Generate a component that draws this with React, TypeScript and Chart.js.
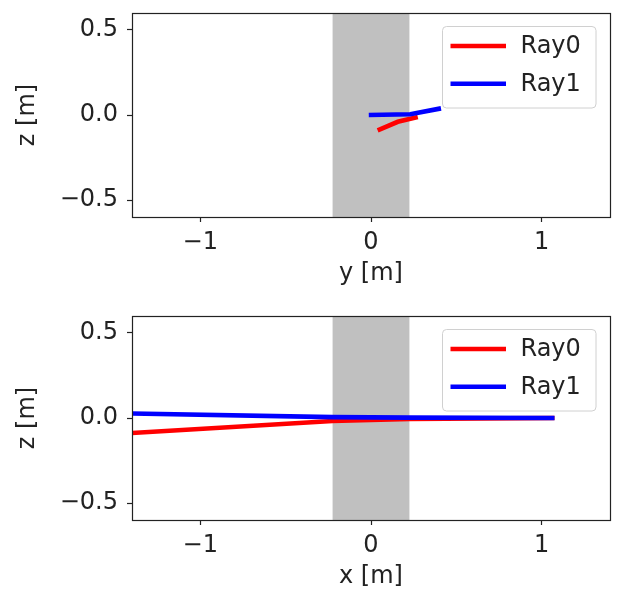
import React, { useEffect, useRef } from 'react';
import { Chart, registerables } from 'chart.js';

Chart.register(...registerables);

// ---- data ----
const SERIES_LABELS = ['Ray0', 'Ray1'];
const SERIES_COLORS = ['#ff0000', '#0000ff'];
const H_TICKS = [-1, 0, 1];
const Z_TICKS = [-0.5, 0, 0.5];
const H_RANGE = [-1.4, 1.4];
const Z_RANGE = [-0.6, 0.6];
const LENS_SPAN = [-0.225, 0.225];

// top panel: y-z projection
const TOP_RAY0_Y = [0.039, 0.157, 0.274];
const TOP_RAY0_Z = [-0.09, -0.04, -0.012];
const TOP_RAY1_Y = [-0.013, 0.23, 0.41];
const TOP_RAY1_Z = [0.0, 0.004, 0.039];

// bottom panel: x-z projection
const BOT_RAY0_X = [-1.5, -0.225, 0.225, 1.075];
const BOT_RAY0_Z = [-0.094, -0.018, -0.005, 0.0];
const BOT_RAY1_X = [-1.5, -0.225, 0.225, 1.075];
const BOT_RAY1_Z = [0.028, 0.005, 0.002, 0.0];

const FONT_FAMILY = '"DejaVu Sans", sans-serif';
const FONT_SIZE = 24;
const TEXT_COLOR = '#222222';

const fmt = (v: number, digits: number) => {
  const s = v.toFixed(digits);
  return s.replace('-', '\u2212');
};

const panelPlugin = {
  id: 'panelDeco',
  beforeDatasetsDraw(chart: any) {
    const { ctx, chartArea: a, scales } = chart;
    const x0 = scales.x.getPixelForValue(LENS_SPAN[0]);
    const x1 = scales.x.getPixelForValue(LENS_SPAN[1]);
    ctx.save();
    ctx.fillStyle = '#c0c0c0';
    ctx.fillRect(x0, a.top, x1 - x0, a.bottom - a.top);
    ctx.restore();
  },
  afterDatasetsDraw(chart: any) {
    const { ctx, chartArea: a } = chart;
    ctx.save();
    // legend
    const bw = 153.5;
    const bh = 81.5;
    const bx = a.right - 14 - bw;
    const by = a.top + 13.5;
    ctx.beginPath();
    (ctx as any).roundRect(bx, by, bw, bh, 4);
    ctx.fillStyle = 'rgba(255,255,255,0.8)';
    ctx.fill();
    ctx.lineWidth = 1;
    ctx.strokeStyle = '#d0d0d0';
    ctx.stroke();
    ctx.font = `${FONT_SIZE}px ${FONT_FAMILY}`;
    ctx.textBaseline = 'middle';
    ctx.textAlign = 'left';
    chart.data.datasets.forEach((ds: any, i: number) => {
      const ly = by + 19.5 + i * 37.8;
      ctx.beginPath();
      ctx.moveTo(bx + 8, ly);
      ctx.lineTo(bx + 63.5, ly);
      ctx.strokeStyle = ds.borderColor;
      ctx.lineWidth = 4.5;
      ctx.stroke();
      ctx.fillStyle = TEXT_COLOR;
      ctx.fillText(ds.label, bx + 78, ly + 1);
    });
    // frame
    ctx.strokeStyle = TEXT_COLOR;
    ctx.lineWidth = 1.2;
    ctx.strokeRect(Math.round(a.left) + 0.5, Math.round(a.top) + 0.5, Math.round(a.right - a.left), Math.round(a.bottom - a.top));
    ctx.restore();
  },
};

function makeConfig(xs: number[][], zs: number[][], xTitle: string): any {
  const datasets = SERIES_LABELS.map((label, i) => ({
    label,
    data: xs[i].map((x, k) => ({ x, y: zs[i][k] })),
    borderColor: SERIES_COLORS[i],
    backgroundColor: SERIES_COLORS[i],
    borderWidth: 4.6,
    pointRadius: 0,
    showLine: true,
    fill: false,
    tension: 0,
    order: SERIES_LABELS.length - i,
  }));
  const tickFont = { family: FONT_FAMILY, size: FONT_SIZE };
  return {
    type: 'scatter',
    data: { datasets },
    plugins: [panelPlugin],
    options: {
      responsive: false,
      animation: false,
      devicePixelRatio: 1,
      layout: { padding: { left: 0, right: 18, top: 13, bottom: 0 } },
      plugins: { legend: { display: false }, tooltip: { enabled: false } },
      scales: {
        x: {
          type: 'linear',
          min: H_RANGE[0],
          max: H_RANGE[1],
          afterBuildTicks: (s: any) => {
            s.ticks = H_TICKS.map((v) => ({ value: v }));
          },
          afterFit: (s: any) => {
            s.height = 85;
            s.paddingLeft = 0;
            s.paddingRight = 0;
          },
          grid: { drawOnChartArea: false, drawTicks: true, tickLength: 5, tickColor: TEXT_COLOR, tickWidth: 1.2 },
          border: { display: false },
          ticks: {
            color: TEXT_COLOR,
            font: tickFont,
            padding: 6.6,
            maxRotation: 0,
            callback: (v: number) => fmt(v, 0),
          },
          title: { display: true, text: xTitle, color: TEXT_COLOR, font: tickFont, padding: { top: 0, bottom: 13.6 } },
        },
        y: {
          type: 'linear',
          min: Z_RANGE[0],
          max: Z_RANGE[1],
          afterBuildTicks: (s: any) => {
            s.ticks = Z_TICKS.map((v) => ({ value: v }));
          },
          afterFit: (s: any) => {
            s.width = 132;
            s.paddingTop = 0;
            s.paddingBottom = 0;
          },
          grid: { drawOnChartArea: false, drawTicks: true, tickLength: 5, tickColor: TEXT_COLOR, tickWidth: 1.2 },
          border: { display: false },
          ticks: {
            color: TEXT_COLOR,
            font: tickFont,
            padding: 9,
            callback: (v: number) => fmt(v, 1),
          },
          title: { display: true, text: 'z [m]', color: TEXT_COLOR, font: tickFont, padding: { top: 13.6, bottom: 0 } },
        },
      },
    },
  };
}

function Panel({ xs, zs, xTitle, top }: { xs: number[][]; zs: number[][]; xTitle: string; top: number }) {
  const ref = useRef<HTMLCanvasElement | null>(null);
  useEffect(() => {
    if (!ref.current) return;
    const chart = new Chart(ref.current, makeConfig(xs, zs, xTitle));
    return () => chart.destroy();
  }, []);
  return (
    <canvas
      ref={ref}
      width={628}
      height={302}
      style={{ position: 'absolute', left: 0, top, width: 628, height: 302, display: 'block' }}
    />
  );
}

export default function App() {
  return (
    <div style={{ position: 'absolute', left: 0, top: 0, width: 628, height: 605, background: '#ffffff' }}>
      <Panel xs={[TOP_RAY0_Y, TOP_RAY1_Y]} zs={[TOP_RAY0_Z, TOP_RAY1_Z]} xTitle="y [m]" top={0} />
      <Panel xs={[BOT_RAY0_X, BOT_RAY1_X]} zs={[BOT_RAY0_Z, BOT_RAY1_Z]} xTitle="x [m]" top={303} />
    </div>
  );
}
